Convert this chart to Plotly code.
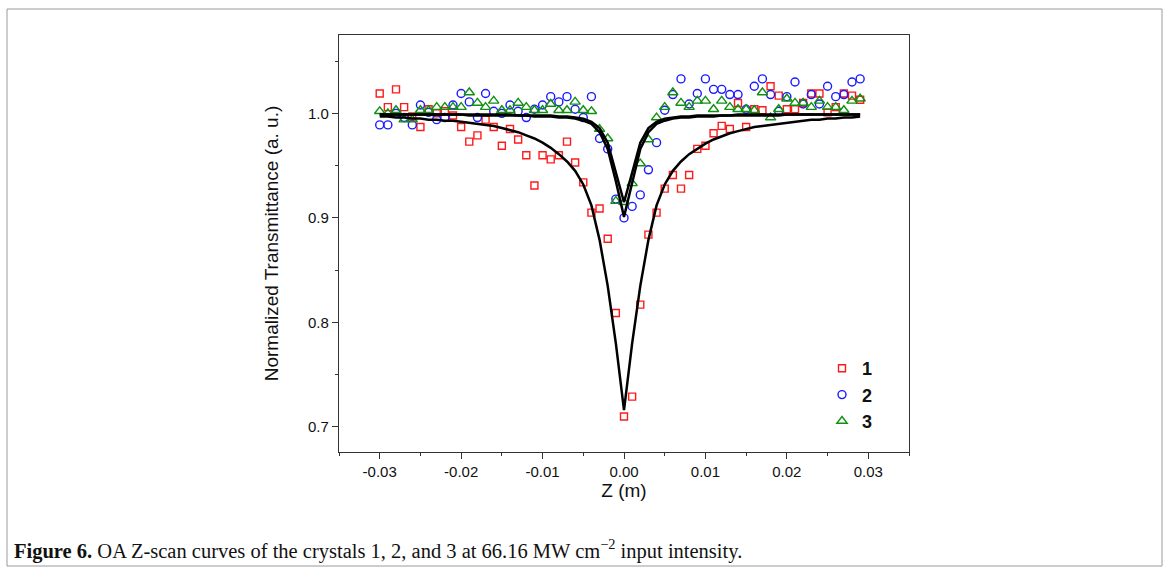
import plotly.graph_objects as go

# ---------------- data ----------------
z_m = [-0.030, -0.029, -0.028, -0.027, -0.026, -0.025, -0.024, -0.023, -0.022, -0.021,
       -0.020, -0.019, -0.018, -0.017, -0.016, -0.015, -0.014, -0.013, -0.012, -0.011,
       -0.010, -0.009, -0.008, -0.007, -0.006, -0.005, -0.004, -0.003, -0.002, -0.001,
       0.000, 0.001, 0.002, 0.003, 0.004, 0.005, 0.006, 0.007, 0.008, 0.009,
       0.010, 0.011, 0.012, 0.013, 0.014, 0.015, 0.016, 0.017, 0.018, 0.019,
       0.020, 0.021, 0.022, 0.023, 0.024, 0.025, 0.026, 0.027, 0.028, 0.029]

crystal_1 = [1.019, 1.006, 1.023, 1.006, 0.997, 0.987, 1.004, 1.000, 1.002, 0.998,
             0.987, 0.973, 0.979, 0.994, 0.987, 0.969, 0.985, 0.975, 0.960, 0.931,
             0.960, 0.956, 0.960, 0.973, 0.953, 0.934, 0.905, 0.909, 0.880, 0.809,
             0.710, 0.729, 0.817, 0.884, 0.905, 0.928, 0.941, 0.928, 0.941, 0.966,
             0.969, 0.981, 0.988, 0.985, 1.010, 0.987, 1.004, 1.003, 1.026, 1.017,
             1.004, 1.004, 1.010, 1.019, 1.019, 1.001, 1.006, 1.019, 1.017, 1.013]

crystal_2 = [0.989, 0.989, 1.000, 0.996, 0.989, 1.008, 1.001, 0.994, 0.996, 1.008,
             1.019, 1.011, 0.996, 1.019, 1.002, 1.000, 1.008, 1.002, 0.996, 1.004,
             1.008, 1.016, 1.011, 1.016, 1.004, 0.996, 1.016, 0.976, 0.966, 0.918,
             0.900, 0.911, 0.922, 0.946, 0.972, 1.003, 1.018, 1.033, 1.009, 1.019,
             1.033, 1.023, 1.023, 1.018, 1.018, 1.004, 1.026, 1.033, 1.018, 1.002,
             1.016, 1.030, 1.009, 1.018, 1.009, 1.026, 1.016, 1.018, 1.030, 1.033]

crystal_3 = [1.002, 1.000, 1.003, 0.994, 0.994, 1.003, 1.003, 1.006, 1.006, 1.006,
             1.006, 1.020, 1.010, 1.006, 1.012, 1.003, 1.003, 1.010, 1.006, 1.003,
             1.003, 1.009, 1.003, 1.003, 1.011, 1.003, 1.002, 0.985, 0.976, 0.916,
             0.915, 0.933, 0.952, 0.975, 0.996, 1.006, 1.020, 1.010, 1.006, 1.012,
             1.012, 1.004, 1.012, 1.006, 1.004, 1.004, 1.003, 1.020, 0.996, 1.004,
             1.014, 1.010, 1.010, 1.006, 1.012, 1.006, 1.006, 1.003, 1.012, 1.014]

fit_1 = [0.997, 0.997, 0.996, 0.996, 0.995, 0.995, 0.994, 0.994, 0.993, 0.993,
         0.992, 0.991, 0.990, 0.989, 0.988, 0.986, 0.984, 0.982, 0.979, 0.976,
         0.972, 0.967, 0.961, 0.954, 0.945, 0.932, 0.912, 0.879, 0.835, 0.780,
         0.716, 0.780, 0.835, 0.879, 0.912, 0.932, 0.945, 0.954, 0.961, 0.966,
         0.971, 0.975, 0.978, 0.981, 0.983, 0.985, 0.987, 0.988, 0.989, 0.990,
         0.991, 0.992, 0.993, 0.994, 0.994, 0.995, 0.995, 0.996, 0.996, 0.997]

fit_2 = [0.999, 0.999, 0.999, 0.999, 0.999, 0.999, 0.999, 0.999, 0.999, 0.999,
         0.999, 0.998, 0.998, 0.998, 0.998, 0.998, 0.998, 0.998, 0.998, 0.997,
         0.997, 0.997, 0.996, 0.996, 0.995, 0.993, 0.990, 0.982, 0.966, 0.935,
         0.901, 0.935, 0.966, 0.982, 0.990, 0.993, 0.995, 0.996, 0.996, 0.997,
         0.997, 0.997, 0.998, 0.998, 0.998, 0.998, 0.998, 0.998, 0.998, 0.998,
         0.999, 0.999, 0.999, 0.999, 0.999, 0.999, 0.999, 0.999, 0.999, 0.999]

fit_3 = [0.999, 0.999, 0.999, 0.999, 0.999, 0.999, 0.999, 0.999, 0.999, 0.999,
         0.999, 0.999, 0.999, 0.999, 0.999, 0.999, 0.999, 0.998, 0.998, 0.998,
         0.998, 0.998, 0.997, 0.997, 0.996, 0.995, 0.992, 0.986, 0.972, 0.943,
         0.915, 0.943, 0.972, 0.986, 0.992, 0.995, 0.996, 0.997, 0.997, 0.998,
         0.998, 0.998, 0.998, 0.998, 0.999, 0.999, 0.999, 0.999, 0.999, 0.999,
         0.999, 0.999, 0.999, 0.999, 0.999, 0.999, 0.999, 0.999, 0.999, 0.999]

series_names = ["1", "2", "3"]
x_tick_vals = [-0.03, -0.02, -0.01, 0.0, 0.01, 0.02, 0.03]
x_tick_text = ["-0.03", "-0.02", "-0.01", "0.00", "0.01", "0.02", "0.03"]
y_tick_vals = [0.7, 0.8, 0.9, 1.0]
y_tick_text = ["0.7", "0.8", "0.9", "1.0"]

caption = ("<b>Figure 6.</b> OA Z-scan curves of the crystals 1, 2, and 3 at 66.16 MW cm"
           "<sup>\u22122</sup> input intensity.")

# ---------------- figure ----------------
W, H = 1170, 577
L, R, T, B = 339, 261, 35, 125
pw, ph = W - L - R, H - T - B

def px(xp):
    return (xp - L) / pw

def py(yp):
    return (H - B - yp) / ph

SANS = "Liberation Sans, Arial"

fig = go.Figure()

fig.add_trace(go.Scatter(x=z_m, y=crystal_1, mode="markers", name=series_names[0],
                         marker=dict(symbol="square-open", size=7, color="#ff1a1a",
                                     line=dict(width=1.4, color="#ff1a1a"))))
fig.add_trace(go.Scatter(x=z_m, y=crystal_2, mode="markers", name=series_names[1],
                         marker=dict(symbol="circle-open", size=8, color="#1a1aff",
                                     line=dict(width=1.4, color="#1a1aff"))))
fig.add_trace(go.Scatter(x=z_m, y=crystal_3, mode="markers", name=series_names[2],
                         marker=dict(symbol="triangle-up-open", size=9, color="#109010",
                                     line=dict(width=1.4, color="#109010"))))

for fit in (fit_1, fit_2, fit_3):
    fig.add_trace(go.Scatter(x=z_m, y=fit, mode="lines", showlegend=False,
                             line=dict(color="black", width=2.5), hoverinfo="skip"))

axis_common = dict(showgrid=False, zeroline=False, showline=True, linecolor="#333333",
                   linewidth=1.3, mirror=True, ticks="outside", ticklen=6, tickwidth=1.2,
                   tickcolor="#333333",
                   tickfont=dict(family=SANS, size=15, color="#111111"),
                   minor=dict(ticks="outside", ticklen=3, tickwidth=1.2, tickcolor="#333333"))

fig.update_xaxes(range=[-0.035, 0.035], tickmode="array", tickvals=x_tick_vals,
                 ticktext=x_tick_text,
                 title=dict(text="Z (m)", font=dict(family=SANS, size=19, color="#111111"),
                            standoff=4),
                 **axis_common)
fig.update_xaxes(minor=dict(tickvals=[-0.035, -0.025, -0.015, -0.005, 0.005, 0.015, 0.025, 0.035]))
fig.update_yaxes(range=[0.676, 1.075], tickmode="array", tickvals=y_tick_vals,
                 ticktext=y_tick_text,
                 title=dict(text="Normalized Transmittance (a. u.)",
                            font=dict(family=SANS, size=19, color="#111111"),
                            standoff=24),
                 **axis_common)
fig.update_yaxes(minor=dict(tickvals=[0.75, 0.85, 0.95, 1.05]))

fig.update_layout(
    width=W, height=H,
    margin=dict(l=L, r=R, t=T, b=B),
    paper_bgcolor="white", plot_bgcolor="white",
    legend=dict(x=px(822), y=py(350), xanchor="left", yanchor="top",
                bgcolor="rgba(0,0,0,0)", borderwidth=0,
                font=dict(family=SANS, size=18, color="#111111", weight="bold"),
                tracegroupgap=0, itemwidth=30),
    showlegend=True,
)

# outer figure frame
fig.add_shape(type="rect", xref="paper", yref="paper",
              x0=px(7), x1=px(1162), y0=py(566), y1=py(9),
              line=dict(color="#9a9a9a", width=1), fillcolor="rgba(0,0,0,0)", layer="below")

fig.add_annotation(xref="paper", yref="paper", x=px(12), y=py(549), xanchor="left",
                   yanchor="middle", showarrow=False, text=caption,
                   font=dict(family="Liberation Serif, DejaVu Serif, serif", size=20.5,
                             color="#111111"))

fig.write_html("out.html")
